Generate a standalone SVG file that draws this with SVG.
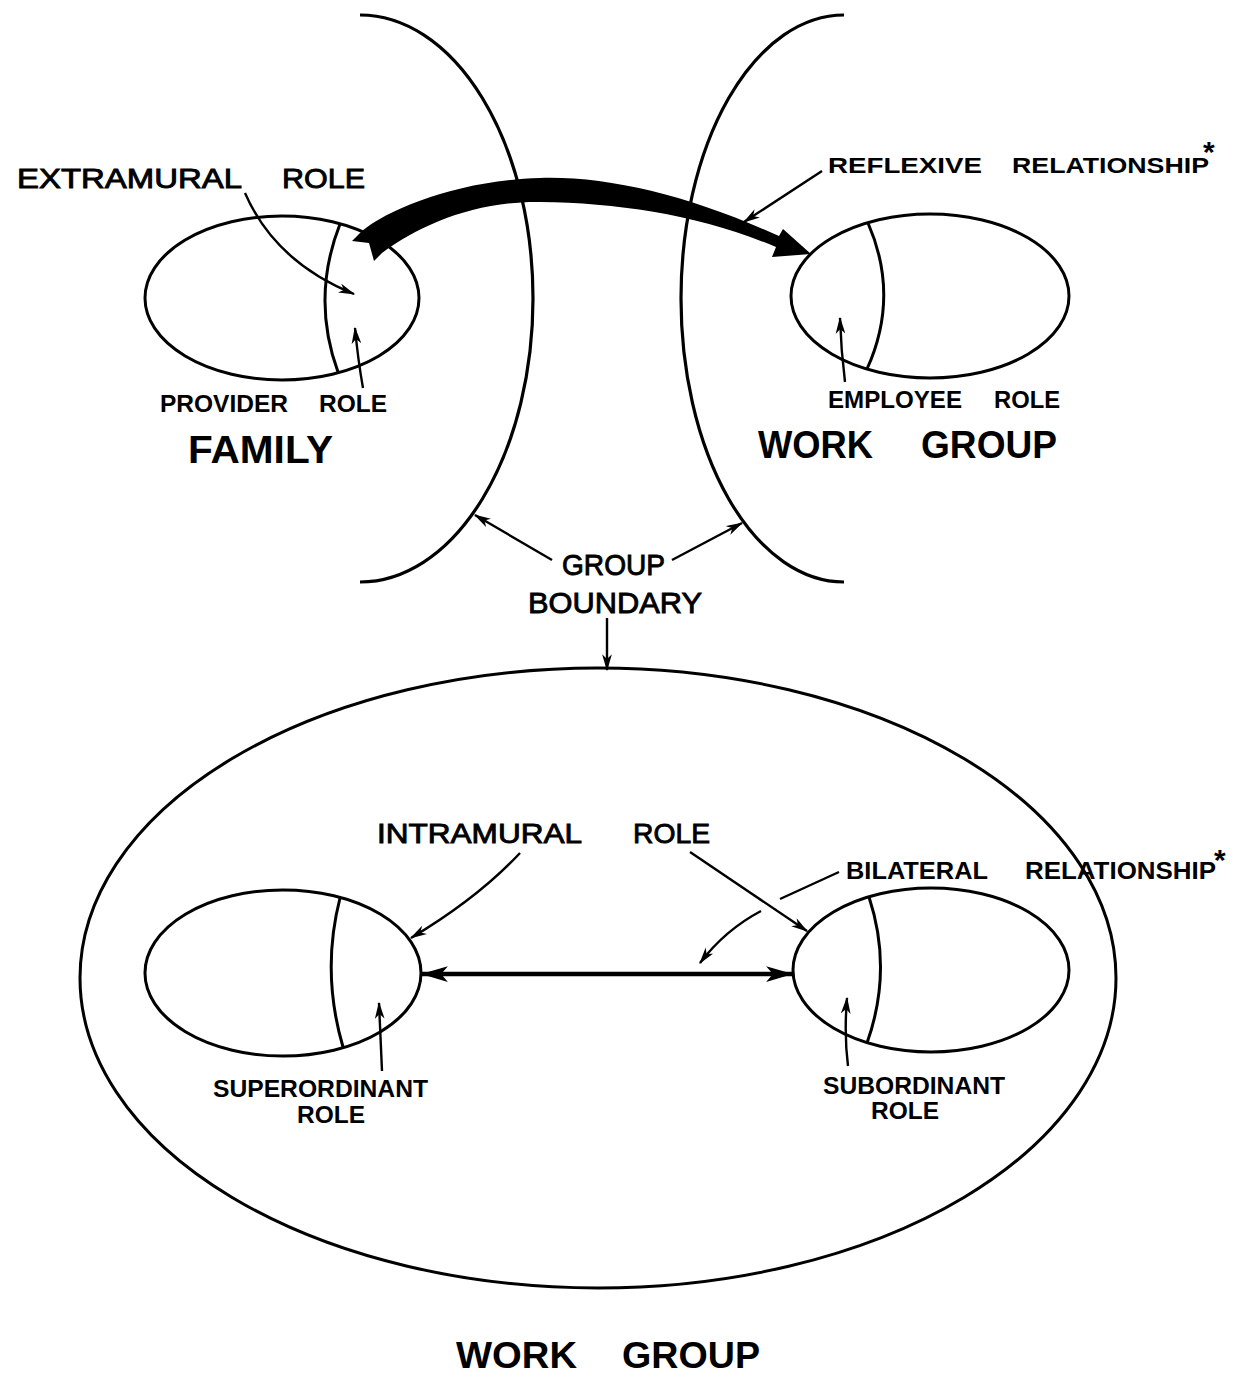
<svg xmlns="http://www.w3.org/2000/svg" width="1242" height="1378" viewBox="0 0 1242 1378">
  <style>
    .ln { fill: none; stroke: #000; stroke-width: 3; }
    .bd { fill: none; stroke: #000; stroke-width: 3.2; }
    .ptr { fill: none; stroke: #000; stroke-width: 2.4; marker-end: url(#ah); }
    text { font-family: "Liberation Sans", "DejaVu Sans", Arial, sans-serif; fill: #000; }
    .b { font-weight: bold; }
    .m { font-weight: normal; stroke: #000; stroke-width: 0.9; }
  </style>
  <defs>
    <marker id="ah" viewBox="0 0 14 8" refX="13" refY="4" markerWidth="17" markerHeight="10" markerUnits="userSpaceOnUse" orient="auto">
      <path d="M0,0 L14,4 L0,8 L4,4 Z" fill="#000"/>
    </marker>
    <marker id="ahH" viewBox="0 0 24 14" refX="23" refY="7" markerWidth="27" markerHeight="16" markerUnits="userSpaceOnUse" orient="auto-start-reverse">
      <path d="M0,0 L24,7 L0,14 L6,7 Z" fill="#000"/>
    </marker>
  </defs>

  <!-- group boundaries (upper half) -->
  <g id="boundary-left">
    <path class="bd" d="M360,15 A173,283.5 0 0 1 360,582"/>
  </g>
  <g id="boundary-right">
    <path class="bd" d="M844,15 A163,283.5 0 0 0 844,582"/>
  </g>

  <!-- family group with provider role -->
  <g id="family">
    <ellipse class="ln" cx="282" cy="298" rx="137" ry="82"/>
    <path class="ln" d="M340,224 Q311,298 338,372"/>
    <text class="b" x="160" y="412" font-size="23" textLength="128" lengthAdjust="spacingAndGlyphs">PROVIDER</text>
    <text class="b" x="319" y="412" font-size="23" textLength="68" lengthAdjust="spacingAndGlyphs">ROLE</text>
    <text class="b" x="188" y="463" font-size="38" textLength="145" lengthAdjust="spacingAndGlyphs">FAMILY</text>
  </g>

  <!-- work group with employee role (upper) -->
  <g id="work-group-top">
    <ellipse class="ln" cx="930" cy="296" rx="139" ry="82"/>
    <path class="ln" d="M868,223 Q900,296 867,369"/>
    <text class="b" x="828" y="408" font-size="23" textLength="134" lengthAdjust="spacingAndGlyphs">EMPLOYEE</text>
    <text class="b" x="994" y="408" font-size="23" textLength="66" lengthAdjust="spacingAndGlyphs">ROLE</text>
    <text class="b" x="758" y="458" font-size="38" textLength="115" lengthAdjust="spacingAndGlyphs">WORK</text>
    <text class="b" x="921" y="458" font-size="38" textLength="136" lengthAdjust="spacingAndGlyphs">GROUP</text>
  </g>

  <!-- upper labels -->
  <g id="label-extramural">
    <text class="m" x="17" y="188" font-size="28" textLength="225" lengthAdjust="spacingAndGlyphs">EXTRAMURAL</text>
    <text class="m" x="282" y="188" font-size="28" textLength="83" lengthAdjust="spacingAndGlyphs">ROLE</text>
  </g>
  <g id="label-reflexive">
    <text class="b" x="828" y="173" font-size="22" textLength="154" lengthAdjust="spacingAndGlyphs">REFLEXIVE</text>
    <text class="b" x="1012" y="173" font-size="22" textLength="197" lengthAdjust="spacingAndGlyphs">RELATIONSHIP</text>
    <text class="b" x="1203" y="162" font-size="30">*</text>
  </g>
  <g id="label-group-boundary">
    <text class="m" x="562" y="575" font-size="30" textLength="103" lengthAdjust="spacingAndGlyphs">GROUP</text>
    <text class="m" x="528" y="613" font-size="30" textLength="174" lengthAdjust="spacingAndGlyphs">BOUNDARY</text>
  </g>

  <!-- lower work group -->
  <g id="work-group-bottom">
    <ellipse class="ln" cx="598" cy="978" rx="518" ry="310"/>
    <text class="b" x="456" y="1368" font-size="36" textLength="121" lengthAdjust="spacingAndGlyphs">WORK</text>
    <text class="b" x="622" y="1368" font-size="36" textLength="138" lengthAdjust="spacingAndGlyphs">GROUP</text>
  </g>
  <g id="superordinant">
    <ellipse class="ln" cx="283" cy="973" rx="138" ry="83"/>
    <path class="ln" d="M340,898 Q321,972 343,1047"/>
    <text class="b" x="213" y="1097" font-size="24" textLength="215" lengthAdjust="spacingAndGlyphs">SUPERORDINANT</text>
    <text class="b" x="297" y="1123" font-size="24" textLength="68" lengthAdjust="spacingAndGlyphs">ROLE</text>
  </g>
  <g id="subordinant">
    <ellipse class="ln" cx="931" cy="970" rx="138" ry="82"/>
    <path class="ln" d="M869,897 Q893,970 867,1043"/>
    <text class="b" x="823" y="1094" font-size="24" textLength="182" lengthAdjust="spacingAndGlyphs">SUBORDINANT</text>
    <text class="b" x="871" y="1119" font-size="24" textLength="68" lengthAdjust="spacingAndGlyphs">ROLE</text>
  </g>
  <g id="label-intramural">
    <text class="m" x="377" y="843" font-size="28" textLength="205" lengthAdjust="spacingAndGlyphs">INTRAMURAL</text>
    <text class="m" x="633" y="843" font-size="28" textLength="77" lengthAdjust="spacingAndGlyphs">ROLE</text>
  </g>
  <g id="label-bilateral">
    <text class="b" x="846" y="879" font-size="23" textLength="142" lengthAdjust="spacingAndGlyphs">BILATERAL</text>
    <text class="b" x="1025" y="879" font-size="23" textLength="191" lengthAdjust="spacingAndGlyphs">RELATIONSHIP</text>
    <text class="b" x="1214" y="870" font-size="30">*</text>
  </g>

  <!-- connectors -->
  <g id="connectors">
    <!-- reflexive relationship: tapered heavy arrow -->
    <path fill="#000" d="M352,241 L362,231 C390,208 460,180 540,178 C610,176 690,196 779,236 L783,229 L811,254 L772,257 L776,247 C700,215 620,203 540,202 C475,201 420,225 382,253 L374,261 L369,243 Z"/>
    <!-- bilateral relationship -->
    <path fill="none" stroke="#000" stroke-width="4.5" d="M422,974 L792,974" marker-start="url(#ahH)" marker-end="url(#ahH)"/>
    <!-- label pointers -->
    <path class="ptr" d="M245,193 Q275,262 354,294"/>
    <path class="ptr" d="M363,388 Q358,360 355,328"/>
    <path class="ptr" d="M845,382 Q841,350 840,318"/>
    <path class="ptr" d="M822,171 L744,222"/>
    <path class="ptr" d="M552,560 L475,515"/>
    <path class="ptr" d="M672,560 L742,523"/>
    <path class="ptr" d="M607,618 L607,670"/>
    <path class="ptr" d="M520,853 Q478,898 411,938"/>
    <path class="ptr" d="M690,852 L807,931"/>
    <path class="ln" style="stroke-width:2.4" d="M839,872 L780,899"/>
    <path class="ptr" d="M761,911 Q725,930 700,963"/>
    <path class="ptr" d="M382,1071 L379,1003"/>
    <path class="ptr" d="M848,1066 Q844,1035 847,998"/>
  </g>
</svg>
